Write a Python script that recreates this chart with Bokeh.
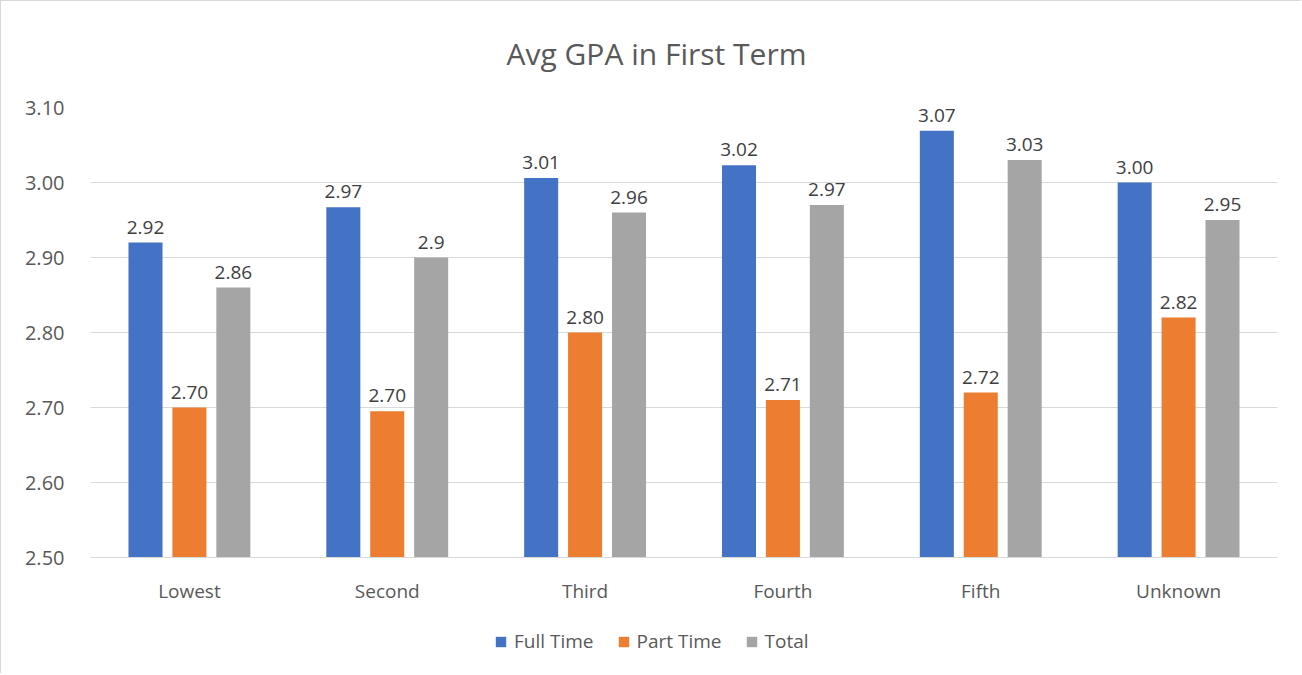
from bokeh.plotting import figure
from bokeh.layouts import column
from bokeh.models import (ColumnDataSource, Range1d, FixedTicker, Legend, LegendItem,
                          LabelSet, Label, NumeralTickFormatter)
from bokeh.core.properties import value
from bokeh.embed import file_html
from bokeh.resources import INLINE

categories = ["Lowest", "Second", "Third", "Fourth", "Fifth", "Unknown"]
full_time = [2.92, 2.967, 3.006, 3.023, 3.069, 3.00]
part_time = [2.70, 2.695, 2.80, 2.71, 2.72, 2.82]
total = [2.86, 2.90, 2.96, 2.97, 3.03, 2.95]
full_labels = ["2.92", "2.97", "3.01", "3.02", "3.07", "3.00"]
part_labels = ["2.70", "2.70", "2.80", "2.71", "2.72", "2.82"]
total_labels = ["2.86", "2.9", "2.96", "2.97", "3.03", "2.95"]
series_names = ["Full Time", "Part Time", "Total"]
colors = ["#4472C4", "#ED7D31", "#A5A5A5"]
y_ticks = [2.5, 2.6, 2.7, 2.8, 2.9, 3.0, 3.1]
title_text = "Avg GPA in First Term"

FONT = "Open Sans"
TXT = "#595959"
BORDER = "1px solid #d9d9d9"

# title strip
tt = figure(width=1301, height=79, output_backend="svg", toolbar_location=None,
            x_range=Range1d(0, 1), y_range=Range1d(0, 1),
            min_border=0, outline_line_color=None, border_fill_color="white")
tt.styles = {"border-left": BORDER, "border-top": BORDER}
tt.axis.visible = False
tt.grid.visible = False
tt.add_layout(Label(x=0.4768, y=0.342, text=title_text, text_align="center",
                    text_baseline="middle", text_font=FONT, text_font_size="30px",
                    text_color=TXT))

# main chart
p = figure(width=1301, height=530, output_backend="svg", toolbar_location=None,
           x_range=Range1d(0, len(categories)), y_range=Range1d(2.5, 3.1),
           min_border_left=89, min_border_right=25, min_border_top=28, min_border_bottom=52,
           outline_line_color=None, background_fill_color="white", border_fill_color="white")
p.styles = {"border-left": BORDER}

offsets = [-0.222, 0.0, 0.222]
bar_w = 0.172
for i, (vals, labs) in enumerate([(full_time, full_labels), (part_time, part_labels), (total, total_labels)]):
    xs = [k + 0.5 + offsets[i] for k in range(len(categories))]
    src = ColumnDataSource(dict(x=xs, top=vals, lab=labs))
    p.vbar(x="x", top="top", bottom=2.5, width=bar_w, source=src,
           fill_color=colors[i], line_color=None)
    ls = LabelSet(x="x", y="top", text="lab", source=src, text_align="center",
                  text_baseline="bottom", y_offset=9, text_font=value(FONT),
                  text_font_size="19px", text_color="#404040")
    p.add_layout(ls)

p.xgrid.grid_line_color = None
p.ygrid.grid_line_color = "#d9d9d9"
p.ygrid.ticker = FixedTicker(ticks=y_ticks)

p.yaxis.ticker = FixedTicker(ticks=y_ticks)
p.yaxis.formatter = NumeralTickFormatter(format="0.00")
p.yaxis.axis_line_color = None
p.yaxis.major_tick_line_color = None
p.yaxis.minor_tick_line_color = None
p.yaxis.major_label_standoff = 20
p.yaxis.major_label_text_font = FONT
p.yaxis.major_label_text_font_size = "20px"
p.yaxis.major_label_text_color = TXT

p.xaxis.ticker = FixedTicker(ticks=[k + 0.5 for k in range(len(categories))])
p.xaxis.major_label_overrides = {k + 0.5: c for k, c in enumerate(categories)}
p.xaxis.axis_line_color = "#d9d9d9"
p.xaxis.major_tick_line_color = None
p.xaxis.minor_tick_line_color = None
p.xaxis.major_label_standoff = 14
p.xaxis.major_label_text_font = FONT
p.xaxis.major_label_text_font_size = "19px"
p.xaxis.major_label_text_color = TXT

# legend strip below the chart
lg = figure(width=1301, height=64, output_backend="svg", toolbar_location=None,
            x_range=Range1d(0, 1), y_range=Range1d(0, 1),
            min_border=0, outline_line_color=None, border_fill_color="white")
lg.styles = {"border-left": BORDER}
lg.axis.visible = False
lg.grid.visible = False
items = []
for n, c in zip(series_names, colors):
    r = lg.vbar(x=[0.5], top=[0], bottom=0, width=0.0, fill_color=c, line_color=None)
    items.append(LegendItem(label=n, renderers=[r]))
legend = Legend(items=items, orientation="horizontal", location=(404, 19),
                glyph_width=13, glyph_height=13, label_standoff=7, spacing=23,
                padding=0, margin=0, border_line_color=None, background_fill_alpha=0,
                label_text_font=FONT, label_text_font_size="19px", label_text_color=TXT)
lg.add_layout(legend, "center")

layout = column(tt, p, lg, spacing=0)
open("out.html", "w").write(file_html(layout, INLINE))
